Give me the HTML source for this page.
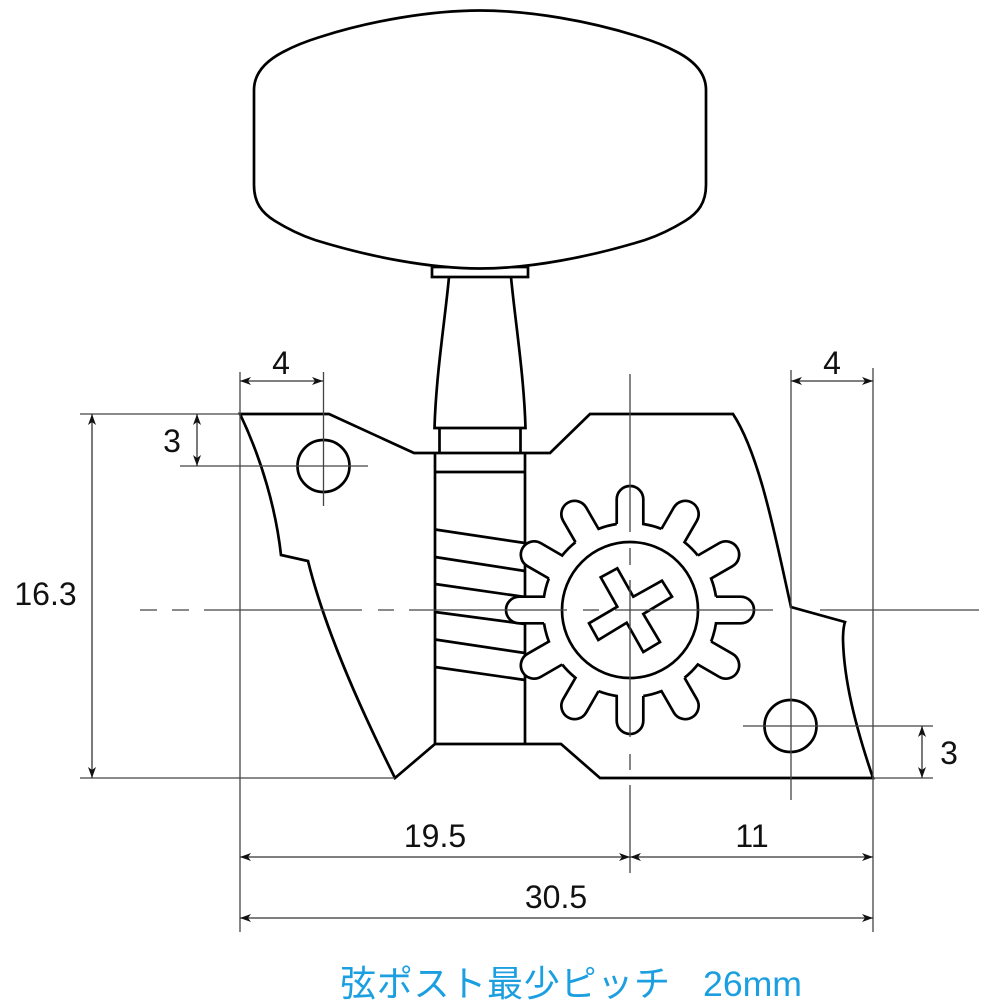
<!DOCTYPE html>
<html>
<head>
<meta charset="utf-8">
<style>
html,body{margin:0;padding:0;background:#fff;}
svg{display:block;}
text{font-family:"Liberation Sans","Noto Sans CJK JP",sans-serif;fill:#111;font-size:32px;text-anchor:middle;}
.b{fill:none;stroke:#000;stroke-width:2.7;stroke-linejoin:miter;}
.t{fill:none;stroke:#444;stroke-width:1.3;}
.a{fill:none;stroke:#333;stroke-width:1.3;marker-start:url(#ar);marker-end:url(#ar);}
</style>
</head>
<body>
<svg width="1000" height="1000" viewBox="0 0 1000 1000" xmlns="http://www.w3.org/2000/svg">
<defs>
<marker id="ar" markerUnits="userSpaceOnUse" viewBox="-13 -5 14 10" refX="0" refY="0" markerWidth="14" markerHeight="10" orient="auto-start-reverse">
<path d="M0,0 L-11,-4 L-8,0 L-11,4 Z" fill="#111"/>
</marker>
<path id="s" d="M-13.3,-86 L-13.3,-110.7 A13.3,13.3 0 0 1 13.3,-110.7 L13.3,-86 A87,87 0 0 1 31.48,-81.13"/>
<g id="gear">
<use href="#s"/><use href="#s" transform="rotate(30)"/><use href="#s" transform="rotate(60)"/><use href="#s" transform="rotate(90)"/>
<use href="#s" transform="rotate(120)"/><use href="#s" transform="rotate(150)"/><use href="#s" transform="rotate(180)"/><use href="#s" transform="rotate(210)"/>
<use href="#s" transform="rotate(240)"/><use href="#s" transform="rotate(270)"/><use href="#s" transform="rotate(300)"/><use href="#s" transform="rotate(330)"/>
</g>
</defs>
<rect width="1000" height="1000" fill="#fff"/>

<!-- knob -->
<rect class="b" x="432" y="267" width="96" height="10"/>
<path d="M254,90 C254,76 262,63 283,52 C296,45 307,41 320,37 C370,21 430,10.5 480,10.5 C530,10.5 590,21 640,37 C653,41 664,45 677,52 C698,63 706,76 706,90 L706,185 C706,203 698,213 685,221 C672,229 660,235 645,240 C590,257 530,268.5 480,268.5 C430,268.5 370,257 315,240 C300,235 288,229 275,221 C262,213 254,203 254,185 Z" fill="#fff" stroke="#000" stroke-width="2.7"/>

<!-- shaft -->
<path class="b" d="M449,277 C445,320 436,375 434.5,428 L525.5,428 C524,375 515,320 511,277"/>
<path class="b" d="M439.5,428 V453 M520.5,428 V453"/>

<!-- body -->
<path class="b" d="M240,414 H329 L414,453 H550 L590,414 H733 C760,455 776,540 791,607 L845,622 Q843,628 843,640 C844,680 855,725 873,778 H600 L561,744 H435 L395,778 C360,708 325,630 308,561 L281,555 C276,510 262,460 240,414 Z"/>

<!-- post -->
<path class="b" d="M435,453 V744 M525,453 V744 M435,472 H525"/>
<path class="b" d="M435,529.5 L525,543 M435,557 L525,571 M435,584 L525,597 M435,612 L525,624 M435,639.5 L525,653 M435,667 L525,680"/>

<!-- holes -->
<circle class="b" cx="323.5" cy="466" r="26"/>
<circle class="b" cx="790.5" cy="726" r="26"/>

<!-- gear -->
<g transform="translate(630,610)">
<circle r="87" fill="#fff"/>
<g fill="#fff" stroke="none"><use href="#gear"/></g>
<g fill="none" stroke="#000" stroke-width="2.7"><use href="#gear"/></g>
<circle class="b" r="68"/>
</g>
<path class="b" d="M600.7,577.3 L617.3,568.3 L633.3,596.7 L662,580.7 L672,596.7 L643.3,614 L660,642 L643.3,652 L626.7,622.7 L598.3,640 L589,623.3 L617.3,606.7 Z"/>

<!-- centre lines -->
<path class="t" d="M140,610 H157 M172,610 H189 M204,610 H362 M378,610 H394 M409,610 H567 M583,610 H599 M615,610 H773 M820,610 H979"/>
<path class="t" d="M630,374 V532 M630,548 V565 M630,580 V737 M630,754 V770 M630,785 V873"/>

<!-- extension lines -->
<path class="t" d="M240,372 V932 M873,368 V932 M791,370 V800 M323.5,372 V506 M180,466 H368 M743,726 H933 M80,414 H240 M80,778 H395 M873,778 H933"/>

<!-- dimension arrows -->
<path class="a" d="M240,381 H323"/>
<path class="a" d="M791,381 H873"/>
<path class="a" d="M197,414 V466"/>
<path class="a" d="M92,414 V778"/>
<path class="a" d="M922,726 V778"/>
<path class="a" d="M240,857 H630"/>
<path class="a" d="M630,857 H873"/>
<path class="a" d="M240,918 H873"/>

<!-- labels -->
<text x="281" y="374">4</text>
<text x="832" y="374">4</text>
<text x="172" y="452">3</text>
<text x="45.5" y="605">16.3</text>
<text x="949" y="764">3</text>
<text x="435" y="847">19.5</text>
<text x="752" y="847">11</text>
<text x="556" y="908">30.5</text>
<text x="340" y="996" style="text-anchor:start;font-size:36px;fill:#1b9fe0" textLength="330" lengthAdjust="spacing">弦ポスト最少ピッチ</text>
<text x="703" y="996" style="text-anchor:start;font-size:35px;fill:#1b9fe0" textLength="99" lengthAdjust="spacingAndGlyphs">26mm</text>
</svg>
</body>
</html>
